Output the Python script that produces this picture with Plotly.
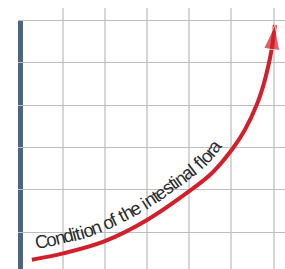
import numpy as np
import plotly.graph_objects as go

# ---------------- data ----------------
curve_x = [0.27, 1.01, 2.00, 3.00, 4.04, 4.54, 5.04, 5.32, 5.60, 5.745, 5.89, 5.96, 6.03]
curve_y = [0.35, 0.50, 0.79, 1.29, 2.00, 2.40, 2.99, 3.42, 4.01, 4.43, 5.00, 5.36, 5.90]
grid_ticks = [1, 2, 3, 4, 5, 6]
label_text = "Condition of the intestinal flora"

# ---------------- layout constants ----------------
W, H = 285, 269
XR = [-0.06, 6.27]
YR = [0.13, 6.30]
DOM_X = [18 / 285, 1.0]
DOM_Y = [0.0, 261 / 269]
BAR_DOM_X = [23 / 285, 1.0]
BAR_DOM_Y = [0.0, (269 - 20.6) / 269]

RED = "#d21f2b"
BAR = "#4b6680"
TEXT_COLOR = "#2b2b2b"
FONT = "Liberation Sans, Arial, sans-serif"
FS = 18.5
TRACK = 0.853
D_OFF = 15.8   # distance of text centre line from curve (px)
S0 = 7.0       # start of text along the path (px)

# Arial / Liberation Sans advance widths (1/1000 em)
ADV = {'C': 722, 'o': 556, 'n': 556, 'd': 556, 'i': 222, 't': 278, ' ': 278,
       'f': 278, 'h': 556, 'e': 556, 's': 500, 'a': 556, 'l': 222, 'r': 333}

L = DOM_X[0] * W
WP = (DOM_X[1] - DOM_X[0]) * W
T = (1 - DOM_Y[1]) * H
HP = (DOM_Y[1] - DOM_Y[0]) * H


def px_of(u, v):
    return (L + (u - XR[0]) / (XR[1] - XR[0]) * WP,
            T + (YR[1] - v) / (YR[1] - YR[0]) * HP)


def data_of(px, py):
    return (XR[0] + (px - L) / WP * (XR[1] - XR[0]),
            YR[1] - (py - T) / HP * (YR[1] - YR[0]))


# path for the label, following the curve
P = np.array([px_of(u, v) for u, v in zip(curve_x, curve_y)])
ext = np.vstack([2 * P[0] - P[1], P, 2 * P[-1] - P[-2]])
pts = []
for i in range(1, len(ext) - 2):
    p0, p1, p2, p3 = ext[i - 1], ext[i], ext[i + 1], ext[i + 2]
    for t in np.linspace(0, 1, 40, endpoint=False):
        t2, t3 = t * t, t * t * t
        pts.append(0.5 * ((2 * p1) + (-p0 + p2) * t + (2 * p0 - 5 * p1 + 4 * p2 - p3) * t2
                          + (-p0 + 3 * p1 - 3 * p2 + p3) * t3))
pts.append(P[-1])
pts = np.array(pts)
tang = np.gradient(pts, axis=0)
tang /= np.linalg.norm(tang, axis=1)[:, None]
normal = np.stack([tang[:, 1], -tang[:, 0]], axis=1)
off = pts + D_OFF * normal
s = np.concatenate([[0], np.cumsum(np.linalg.norm(np.diff(off, axis=0), axis=1))])
angs = np.degrees(np.arctan2(tang[:, 1], tang[:, 0]))

annotations = []
pos = S0
for ch in label_text:
    w = ADV[ch] / 1000 * FS * TRACK
    c = pos + w / 2
    if ch != ' ':
        cx = np.interp(c, s, off[:, 0])
        cy = np.interp(c, s, off[:, 1])
        a = np.interp(c, s, angs)
        u, v = data_of(cx, cy)
        annotations.append(dict(x=u, y=v, xref="x2", yref="y2", text=ch, showarrow=False,
                                textangle=float(a), xanchor="center", yanchor="middle",
                                font=dict(family=FONT, size=FS, color=TEXT_COLOR)))
    pos += w

n = len(curve_x)
fig = go.Figure()
# bar subplot (drawn first, underneath)
fig.add_trace(go.Scatter(x=[], y=[], xaxis="x", yaxis="y", showlegend=False, hoverinfo="skip"))
# main curve with arrow head
fig.add_trace(go.Scatter(
    x=curve_x, y=curve_y, xaxis="x2", yaxis="y2", mode="lines+markers",
    line=dict(color=RED, width=4, shape="spline", smoothing=1),
    marker=dict(symbol=["circle"] * (n - 1) + ["arrow"], size=[0] * (n - 1) + [26],
                angleref="previous", color=RED),
    cliponaxis=False, showlegend=False, hoverinfo="skip"))

fig.update_layout(
    width=W, height=H, autosize=False,
    margin=dict(l=0, r=0, t=0, b=0, pad=0),
    paper_bgcolor="white", plot_bgcolor="rgba(0,0,0,0)",
    showlegend=False,
    xaxis=dict(domain=BAR_DOM_X, anchor="y", visible=False, range=[0, 1]),
    yaxis=dict(domain=BAR_DOM_Y, anchor="x", range=[0, 1], showline=True, linewidth=5,
               linecolor=BAR, showgrid=False, zeroline=False, showticklabels=False, ticks=""),
    xaxis2=dict(domain=DOM_X, anchor="y2", range=XR, tickvals=grid_ticks, showgrid=True,
                gridcolor="#d6d6d6", gridwidth=2, zeroline=False, showticklabels=False,
                ticks="", showline=False),
    yaxis2=dict(domain=DOM_Y, anchor="x2", range=YR, tickvals=grid_ticks, showgrid=True,
                gridcolor="#bdbdbd", gridwidth=1.3, zeroline=False, showticklabels=False,
                ticks="", showline=False),
    annotations=annotations,
)

fig.write_html("out.html", config={"displayModeBar": False},
               post_script="document.body.style.margin='0';document.body.style.overflow='hidden';")
